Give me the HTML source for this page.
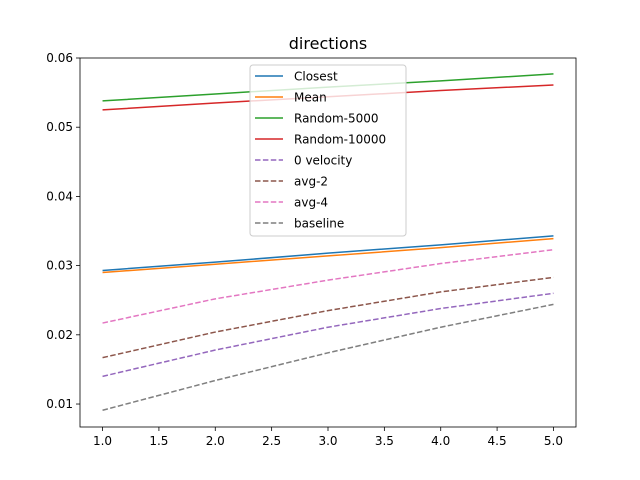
<!DOCTYPE html>
<html><head><meta charset="utf-8"><style>
body{margin:0;background:#fff}
svg{display:block;font-family:"DejaVu Sans","Liberation Sans",sans-serif}
</style></head><body>
<svg id="c" width="640" height="480"></svg>
<script>
const xs=[1,2,3,4,5];
const closest=[0.0293,0.0305,0.0318,0.0330,0.0343];
const mean=[0.0290,0.0302,0.0314,0.0326,0.0339];
const random5000=[0.0538,0.0548,0.0558,0.0567,0.0577];
const random10000=[0.0525,0.0535,0.0544,0.0553,0.0561];
const zeroVelocity=[0.0140,0.0178,0.0211,0.0238,0.0260];
const avg2=[0.0167,0.0204,0.0235,0.0262,0.0283];
const avg4=[0.0217,0.0252,0.0279,0.0303,0.0323];
const baseline=[0.0091,0.0134,0.0174,0.0211,0.0244];
const xTicks=[1.0,1.5,2.0,2.5,3.0,3.5,4.0,4.5,5.0];
const yTicks=[0.01,0.02,0.03,0.04,0.05,0.06];
const seriesNames=["Closest","Mean","Random-5000","Random-10000","0 velocity","avg-2","avg-4","baseline"];
const seriesData=[closest,mean,random5000,random10000,zeroVelocity,avg2,avg4,baseline];
const colors=["#1f77b4","#ff7f0e","#2ca02c","#d62728","#9467bd","#8c564b","#e377c2","#7f7f7f"];
const dashed=[false,false,false,false,true,true,true,true];

const L=80,R=576,T=58,B=427;
const xmin=0.8,xmax=5.2,ymin=0.00668,ymax=0.0600;
const X=v=>L+(v-xmin)/(xmax-xmin)*(R-L);
const Y=v=>B-(v-ymin)/(ymax-ymin)*(B-T);
const svg=document.getElementById('c');
const NS="http://www.w3.org/2000/svg";
function mk(t,a,p){const e=document.createElementNS(NS,t);for(const k in a)e.setAttribute(k,a[k]);(p||svg).appendChild(e);return e;}

const title=mk('text',{x:(L+R)/2,y:49,'text-anchor':'middle','font-size':16});
title.textContent='directions';



xTicks.forEach(v=>{
  const g=mk('g',{});
  
  
  mk('line',{x1:X(v),x2:X(v),y1:B,y2:B+4,stroke:'#000','stroke-width':0.8},g);
  const t=mk('text',{x:X(v),y:B+18,'text-anchor':'middle','font-size':12},g);
  t.textContent=v.toFixed(1);
});
yTicks.forEach(v=>{
  const g=mk('g',{});
  
  
  mk('line',{x1:L-4,x2:L,y1:Y(v),y2:Y(v),stroke:'#000','stroke-width':0.8},g);
  const t=mk('text',{x:L-7,y:Y(v)+4,'text-anchor':'end','font-size':12},g);
  t.textContent=v.toFixed(2);
});

seriesData.forEach((d,i)=>{
  const p=mk('polyline',{points:d.map((v,j)=>X(xs[j])+','+Y(v)).join(' '),fill:'none',stroke:colors[i],'stroke-width':1.5});
  if(dashed[i])p.setAttribute('stroke-dasharray','5.5,2.4');
  
  
});

const frame=mk('rect',{x:L,y:T,width:R-L,height:B-T,fill:'none',stroke:'#000','stroke-width':0.8});



const lg=mk('g',{});


mk('rect',{x:250,y:65,width:156,height:171,rx:3,fill:'#fff','fill-opacity':0.8,stroke:'#ccc'},lg);
seriesNames.forEach((n,i)=>{
  const g=mk('g',{},lg);
  
  
  const y=76+i*21;
  const l=mk('line',{x1:255,x2:283,y1:y,y2:y,stroke:colors[i],'stroke-width':1.5},g);
  if(dashed[i])l.setAttribute('stroke-dasharray','5.5,2.4');
  const t=mk('text',{x:294,y:y+4.5,'font-size':12},g);
  t.textContent=n;
});
</script>
</body></html>
